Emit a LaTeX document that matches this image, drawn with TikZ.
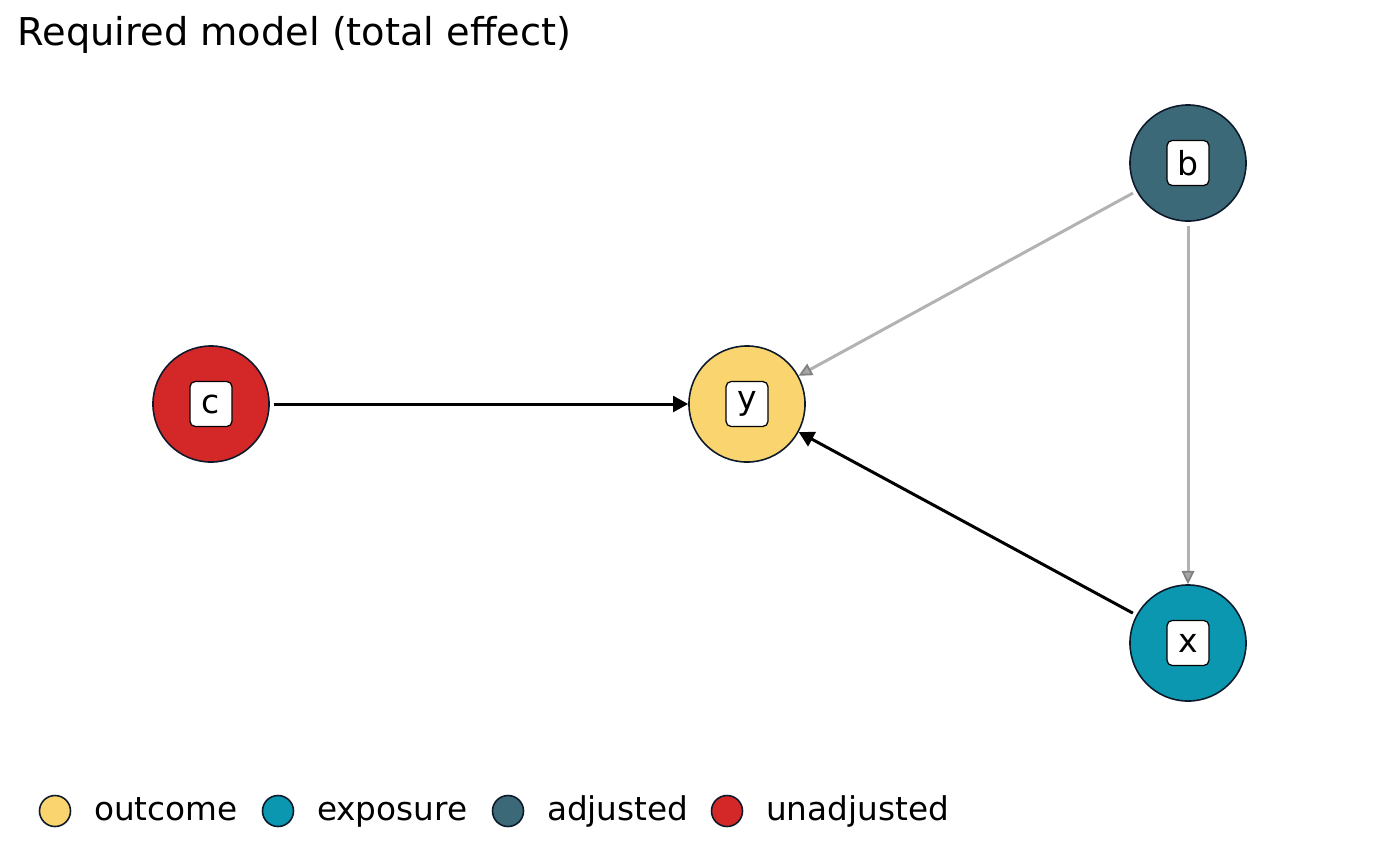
\documentclass[tikz,border=0pt]{standalone}
\usepackage{fontspec}
\setmainfont{DejaVu Sans}
\usetikzlibrary{arrows.meta}
\usetikzlibrary{positioning}

\definecolor{outcomecol}{HTML}{FAD46F}
\definecolor{exposurecol}{HTML}{0B97B0}
\definecolor{adjustedcol}{HTML}{3B6978}
\definecolor{unadjustedcol}{HTML}{D42828}
\definecolor{rimcol}{HTML}{0D1A2B}

\begin{document}
\begin{tikzpicture}[x=0.01cm,y=-0.01cm]
          \useasboundingbox (0,0) rectangle (1400,866);
          \node[anchor=base west,inner sep=0,font=\fontsize{10.9}{13}\selectfont] (title) at (17,45) {Required model (total effect)};
          % variables
          \begin{scope}[every node/.style={circle,draw=rimcol,line width=0.45pt,minimum size=1.16cm,inner sep=0}]
            \node[fill=unadjustedcol] (c) at (211,404) {};
            \node[fill=outcomecol] (y) at (747,404) {};
            \node[fill=adjustedcol] (b) at (1188,163) {};
            \node[fill=exposurecol] (x) at (1188,643) {};
          \end{scope}
          \begin{scope}[every node/.style={draw=black,fill=white,line width=0.35pt,rounded corners=1.5pt,minimum width=0.42cm,minimum height=0.45cm,inner sep=0,font=\fontsize{9.4}{11}\selectfont}]
            \node (c-lbl) at (c) {c};
            \node (y-lbl) at (y) {y};
            \node (b-lbl) at (b) {b};
            \node (x-lbl) at (x) {x};
          \end{scope}
          % paths
          \begin{scope}[every edge/.style={draw=black,line width=0.85pt,shorten <=1.1pt,-{Triangle[length=4.3pt,width=4.5pt]}}]
            \path (c) edge (y);
            \path (x) edge (y);
          \end{scope}
          \begin{scope}[every edge/.style={draw=black!30,line width=0.85pt,shorten <=1.1pt,-{Triangle[length=3.8pt,width=3.6pt,color=gray,fill=black!35,line width=0.5pt]}}]
            \path (b) edge (y);
            \path (b) edge (x);
          \end{scope}
          % legend
          \begin{scope}[every node/.style={circle,draw=rimcol,line width=0.45pt,minimum size=0.31cm,inner sep=0}]
            \node[fill=outcomecol] (key-o) at (55,811) {};
            \node[fill=exposurecol] (key-e) at (278,811) {};
            \node[fill=adjustedcol] (key-a) at (508,811) {};
            \node[fill=unadjustedcol] (key-u) at (727,811) {};
          \end{scope}
          \begin{scope}[every node/.style={inner sep=0,text height=1ex,text depth=0pt,font=\fontsize{9.3}{11}\selectfont}]
            \node[right=0.22cm of key-o] (txt-o) {outcome};
            \node[right=0.22cm of key-e] (txt-e) {exposure};
            \node[right=0.22cm of key-a] (txt-a) {adjusted};
            \node[right=0.22cm of key-u] (txt-u) {unadjusted};
          \end{scope}
        \end{tikzpicture}
\end{document}
